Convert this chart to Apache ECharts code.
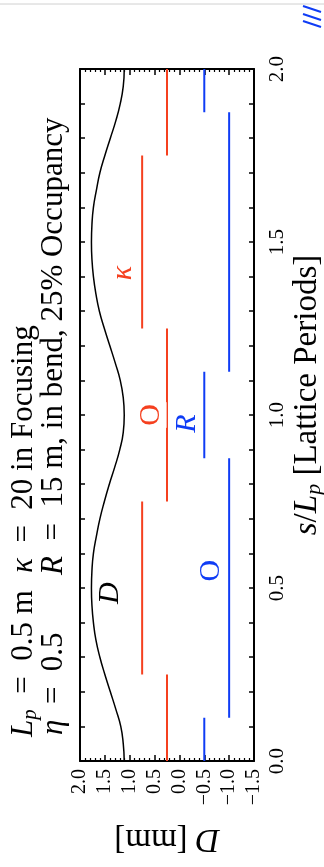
<!DOCTYPE html>
<html><head><meta charset="utf-8">
<script src="https://cdn.jsdelivr.net/npm/echarts@6/dist/echarts.min.js"></script>
<style>html,body{margin:0;padding:0;background:#fff}#c{width:324px;height:867px}</style>
</head><body><div id="c"></div>
<script>
// s / L_p positions (lattice periods) and dispersion D [mm]
const sPos = [0,0.05,0.1,0.15,0.2,0.25,0.3,0.35,0.4,0.45,0.5,0.55,0.6,0.65,0.7,0.75,0.8,0.85,0.9,0.95,1.0,
              1.05,1.1,1.15,1.2,1.25,1.3,1.35,1.4,1.45,1.5,1.55,1.6,1.65,1.7,1.75,1.8,1.85,1.9,1.95,2.0];
const dispersion = [1.11,1.13,1.18,1.28,1.39,1.50,1.60,1.68,1.73,1.76,1.77,1.76,1.73,1.67,1.60,1.51,1.41,1.30,1.20,1.13,1.11,
                    1.13,1.19,1.29,1.40,1.51,1.61,1.68,1.73,1.76,1.77,1.76,1.73,1.67,1.60,1.50,1.39,1.28,1.19,1.13,1.11];
// focusing element (red) lattice function: kappa on / off
const focusOnLevel = 0.75;
const focusOnSegments = [[0.25,0.75],[1.25,1.75]];
const focusOffLevel = 0.25;
const focusOffSegments = [[0,0.25],[0.75,1.25],[1.75,2.0]];
// bend (blue): R on / off
const bendOnLevel = -0.5;
const bendOnSegments = [[0,0.125],[0.875,1.125],[1.875,2.0]];
const bendOffLevel = -1.0;
const bendOffSegments = [[0.125,0.875],[1.125,1.875]];
// axis ticks
const dTicks = {min:-1.5, max:2.0, interval:0.5};
const sTicks = {min:0, max:2.0, interval:0.5};

const RED = '#f5401f', BLUE = '#0f3cf5';
const FONT = 'Liberation Serif';
const BIG = 31;

const chart = echarts.init(document.getElementById('c'), null, {renderer:'canvas'});

function segSeries(level, segs, color){
  return segs.map(function(sg){
    return {type:'line', xAxisIndex:0, yAxisIndex:0, symbol:'none', silent:true,
      lineStyle:{color:color, width:2}, data:[[level, sg[0]],[level, sg[1]]], z:2};
  });
}

const series = [].concat(
  [{type:'line', xAxisIndex:0, yAxisIndex:0, symbol:'none', smooth:true, silent:true,
    lineStyle:{color:'#000', width:1.5}, data: sPos.map(function(s,i){return [dispersion[i], s];}), z:3}],
  segSeries(focusOnLevel, focusOnSegments, RED),
  segSeries(focusOffLevel, focusOffSegments, RED),
  segSeries(bendOnLevel, bendOnSegments, BLUE),
  segSeries(bendOffLevel, bendOffSegments, BLUE)
);

const axisLineStyle = {color:'#000', width:2};
function richMath(size){
  return {
    i:{fontStyle:'italic', fontFamily:FONT, fontSize:size, color:'#000'},
    r:{fontFamily:FONT, fontSize:size, color:'#000'},
    sub:{fontStyle:'italic', fontFamily:FONT, fontSize:Math.round(size*0.68), color:'#000', verticalAlign:'bottom', padding:[Math.round(size*0.4),0,0,0]}
  };
}

function xAxisCfg(pos, show){
  return {type:'value', position:pos, min:dTicks.min, max:dTicks.max, interval:dTicks.interval, inverse:true,
    axisLine:{show:true, onZero:false, lineStyle:axisLineStyle},
    axisTick:{show:true, inside:true, length:6, lineStyle:{color:'#000', width:1.5}},
    minorTick:{show:true, splitNumber:5, length:3, lineStyle:{color:'#000', width:1.2}},
    splitLine:{show:false}, minorSplitLine:{show:false},
    axisLabel:{show:show, rotate:90, margin:8, fontFamily:FONT, fontSize:20, color:'#000',
      formatter:function(v){return (v<0?'\u2212':'')+Math.abs(v).toFixed(1);}},
    name: show ? '{i|D}{r| [mm]}' : '', nameLocation:'middle', nameRotate:180, nameGap:61,
    nameTextStyle:{rich:richMath(33)}
  };
}
function yAxisCfg(pos, show){
  return {type:'value', position:pos, min:sTicks.min, max:sTicks.max, interval:sTicks.interval,
    axisLine:{show:true, onZero:false, lineStyle:axisLineStyle},
    axisTick:{show:true, inside:true, length:5, lineStyle:{color:'#000', width:1.5}},
    minorTick:{show:true, splitNumber:5, length:5, lineStyle:{color:'#000', width:1.5}},
    splitLine:{show:false}, minorSplitLine:{show:false},
    axisLabel:{show:show, rotate:90, margin:13, fontFamily:FONT, fontSize:21, color:'#000',
      formatter:function(v){return v.toFixed(1);}},
    name: show ? '{i|s}{r|/}{i|L}{sub|p}{r| [Lattice Periods]}' : '', nameLocation:'middle', nameRotate:90, nameGap:36,
    nameMoveOverlap:false,
    nameTextStyle:{rich:richMath(33), padding:[0,0,0,40]}
  };
}

chart.setOption({
  animation:false,
  backgroundColor:'#fff',
  grid:{left:80, right:70, top:69, bottom:106, containLabel:false, outerBoundsMode:'none'},
  xAxis:[xAxisCfg('bottom', true), xAxisCfg('top', false)],
  yAxis:[yAxisCfg('right', true), yAxisCfg('left', false)],
  series:series
});

// annotations anchored in data coordinates
const annotations = [
  {text:'{i|D}', at:[1.40, 0.485], color:'#000', bg:null},
  {text:'{i|κ}', at:[1.13, 1.41], color:RED, bg:null},
  {text:'O', at:[0.56, 1.0], color:RED, bg:'#fff'},
  {text:'{i|R}', at:[-0.15, 0.975], color:BLUE, bg:'#fff'},
  {text:'O', at:[-0.63, 0.55], color:BLUE, bg:null}
];
const graphics = annotations.map(function(a){
  const p = chart.convertToPixel({gridIndex:0}, a.at);
  return {type:'text', x:p[0], y:p[1], rotation:Math.PI/2, z:10,
    style:{text:a.text, fill:a.color, font:'30px "'+FONT+'"', align:'center', verticalAlign:'middle',
      backgroundColor:a.bg || 'transparent', padding:[0,2,0,2],
      rich:{i:{fontStyle:'italic', fontFamily:FONT, fontSize:30, fill:a.color}}}};
});

const leftRich = {
  i:{fontStyle:'italic', fontFamily:FONT, fontSize:BIG, fill:'#000'},
  r:{fontFamily:FONT, fontSize:BIG, fill:'#000'},
  sub:{fontStyle:'italic', fontFamily:FONT, fontSize:21, fill:'#000', verticalAlign:'bottom', padding:[13,0,0,0]}
};
function leftText(txt, x, y){
  return {type:'text', x:x, y:y, rotation:Math.PI/2, z:10,
    style:{text:txt, fill:'#000', font:BIG+'px "'+FONT+'"', align:'left', verticalAlign:'middle', rich:leftRich}};
}
graphics.push(leftText('{i|L}{sub|p}{r|  =  0.5 m}', 24, 737));
graphics.push(leftText('{i|κ}{r|  =  20 in Focusing}', 24, 573));
graphics.push(leftText('{i|η}{r|  =  0.5}', 54, 735));
graphics.push(leftText('{i|R}{r|  =  15 m, in bend, 25% Occupancy}', 54, 575));
// page decoration at the top
graphics.push({type:'line', shape:{x1:0, y1:4, x2:324, y2:4}, style:{stroke:'#d0d0d0', lineWidth:1}});
[[6,12],[14,20],[21,27]].forEach(function(yy){
  graphics.push({type:'line', shape:{x1:303, y1:yy[0], x2:321, y2:yy[1]}, style:{stroke:BLUE, lineWidth:2}});
});
chart.setOption({graphic:graphics});
</script>
</body></html>
